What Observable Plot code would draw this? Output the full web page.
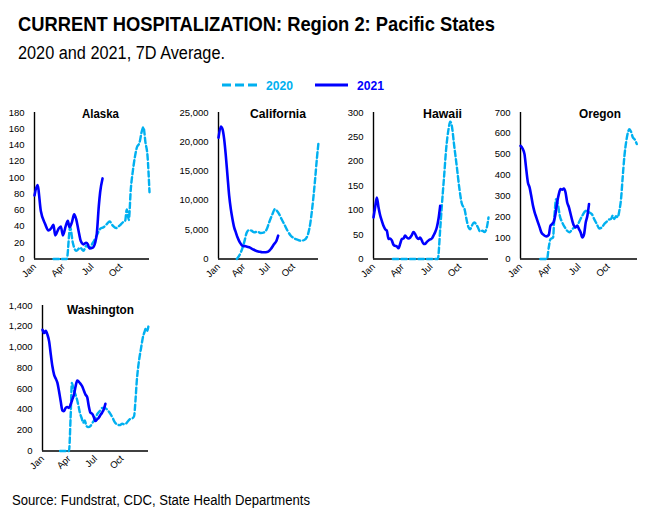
<!DOCTYPE html>
<html><head><meta charset="utf-8">
<script src="https://cdn.jsdelivr.net/npm/d3@7"></script>
<script src="https://cdn.jsdelivr.net/npm/@observablehq/plot@0.6"></script>
<style>
body{margin:0;background:#fff;}
#root{position:relative;width:671px;height:516px;overflow:hidden;background:#fff;font-family:Arial,"Liberation Sans",sans-serif;}
.panel{position:absolute;}
#overlay{position:absolute;left:0;top:0;pointer-events:none;}
</style></head><body><div id="root"></div>
<script>
// ---- data ----
const monthLabels = ["Jan","Apr","Jul","Oct"];
const monthTicks = [0,3,6,9];
const states = ["Alaska","California","Hawaii","Oregon","Washington"];
const yMax = [180, 25000, 300, 700, 1400];
const yStep = [20, 5000, 50, 100, 200];
const seriesNames = ["2020","2021"];

// [month position, 7D avg hospitalizations]
const alaska2021 = [[0,78],[0.31,91],[0.66,59],[1.11,43],[1.46,35],[1.81,39],[1.98,42],[2.16,29],[2.5,37],[2.75,40],[2.96,29],[3.27,41],[3.48,47],[3.65,39],[3.9,45],[4.14,55],[4.35,49],[4.59,35],[4.83,22],[5.11,18],[5.39,20],[5.57,18],[5.74,13],[6.09,14],[6.33,20],[6.5,31],[6.71,65],[6.85,82],[7.1,99]];
const alaska2020 = [[1.98,0],[3.37,0],[3.72,39],[4.0,20],[4.35,10],[4.77,14],[5.11,10],[5.39,16],[5.74,14],[6.09,20],[6.5,29],[6.85,37],[7.2,39],[7.55,43],[7.83,46],[8.17,41],[8.52,38],[8.87,41],[9.22,45],[9.46,47],[9.63,61],[9.84,48],[10.05,86],[10.26,108],[10.5,127],[10.68,137],[10.96,143],[11.2,157],[11.37,162],[11.58,143],[11.79,127],[12.0,82]];

const california2021 = [[0,20700],[0.28,22600],[0.48,22150],[0.68,20450],[0.88,17600],[1.08,14200],[1.28,10800],[1.48,8500],[1.68,6800],[1.88,5400],[2.08,4550],[2.28,3700],[2.56,2840],[2.88,2270],[3.28,2160],[3.68,2000],[4.08,1700],[4.48,1420],[4.88,1250],[5.28,1140],[5.68,1140],[5.96,1250],[6.28,1700],[6.68,2560],[6.96,3120],[7.16,3980]];
const california2020 = [[2.2,0],[2.68,1140],[3.08,2840],[3.4,4550],[3.68,4940],[3.96,4830],[4.28,4550],[4.68,4660],[5.08,4430],[5.48,4550],[5.8,5110],[6.08,6250],[6.48,7670],[6.76,8520],[7.0,8240],[7.28,7670],[7.56,6820],[7.88,5960],[8.28,4830],[8.68,3980],[9.08,3520],[9.48,3300],[9.88,3120],[10.28,3240],[10.68,3980],[11.0,5960],[11.28,9090],[11.56,13060],[11.8,17040],[12.0,19880]];

const hawaii2021 = [[0,85],[0.17,106],[0.35,126],[0.52,106],[0.7,89],[0.87,78],[1.04,68],[1.22,61],[1.39,58],[1.57,41],[1.74,42],[1.91,38],[2.09,29],[2.26,27],[2.43,26],[2.61,22],[2.78,31],[2.96,41],[3.13,42],[3.3,48],[3.48,44],[3.65,42],[3.83,44],[4.0,49],[4.17,55],[4.35,51],[4.52,44],[4.7,41],[4.87,44],[5.04,38],[5.22,31],[5.39,31],[5.57,35],[5.74,38],[5.91,40],[6.09,42],[6.26,48],[6.43,55],[6.61,65],[6.78,82],[6.96,109]];
const hawaii2020 = [[2.02,0],[6.71,0],[6.96,61],[7.13,109],[7.37,170],[7.58,225],[7.83,266],[8.0,281],[8.17,273],[8.42,232],[8.7,188],[8.97,143],[9.22,113],[9.5,102],[9.74,78],[9.91,65],[10.09,61],[10.26,68],[10.5,75],[10.68,72],[10.89,65],[11.13,56],[11.37,58],[11.58,55],[11.83,65],[12.0,85]];

const oregon2021 = [[0,541],[0.21,528],[0.41,501],[0.55,445],[0.76,366],[0.93,342],[1.1,302],[1.28,255],[1.45,223],[1.62,199],[1.79,175],[1.97,151],[2.14,127],[2.38,115],[2.66,108],[2.9,115],[3.07,159],[3.24,167],[3.41,178],[3.59,215],[3.76,270],[3.93,310],[4.1,334],[4.28,331],[4.45,337],[4.62,318],[4.79,270],[4.97,247],[5.14,215],[5.31,183],[5.48,159],[5.66,151],[5.83,159],[6.0,143],[6.17,127],[6.34,103],[6.52,119],[6.69,175],[6.86,207],[7.03,263]];
const oregon2020 = [[2.03,0],[2.72,0],[2.9,56],[3.07,95],[3.34,103],[3.48,207],[3.66,286],[3.86,255],[4.03,207],[4.28,175],[4.55,151],[4.79,135],[5.03,127],[5.31,143],[5.59,151],[5.83,159],[6.07,183],[6.34,207],[6.59,226],[6.79,231],[7.03,223],[7.31,215],[7.55,191],[7.83,167],[8.07,146],[8.34,151],[8.59,167],[8.83,178],[9.03,188],[9.28,191],[9.45,207],[9.62,191],[9.79,204],[9.97,199],[10.14,231],[10.31,286],[10.48,390],[10.66,493],[10.83,557],[11.0,601],[11.17,620],[11.34,608],[11.52,581],[11.69,573],[11.93,549]];

const washington2021 = [[0,1167],[0.19,1135],[0.37,1157],[0.56,1119],[0.75,1055],[0.94,927],[1.12,815],[1.31,735],[1.5,697],[1.69,655],[1.87,575],[2.06,479],[2.25,390],[2.43,384],[2.62,415],[2.81,422],[3.0,415],[3.18,447],[3.37,495],[3.56,543],[3.75,623],[3.93,678],[4.12,665],[4.31,646],[4.49,623],[4.68,582],[4.87,543],[5.06,518],[5.24,431],[5.43,368],[5.62,358],[5.81,326],[5.99,288],[6.18,304],[6.37,320],[6.55,345],[6.74,368],[6.93,400],[7.12,454]];
const washington2020 = [[1.99,0],[3.0,0],[3.18,320],[3.33,655],[3.48,607],[3.67,559],[3.86,511],[4.08,431],[4.23,368],[4.42,320],[4.61,272],[4.79,294],[4.98,240],[5.17,230],[5.43,240],[5.66,272],[5.92,304],[6.18,352],[6.48,384],[6.78,415],[7.04,415],[7.3,400],[7.6,368],[7.9,326],[8.16,281],[8.43,256],[8.73,249],[9.03,262],[9.29,256],[9.55,272],[9.85,304],[10.15,313],[10.37,336],[10.52,479],[10.67,671],[10.82,799],[10.97,895],[11.16,991],[11.35,1087],[11.57,1151],[11.72,1183],[11.87,1157],[11.99,1199]];

const data2020 = [alaska2020, california2020, hawaii2020, oregon2020, washington2020];
const data2021 = [alaska2021, california2021, hawaii2021, oregon2021, washington2021];

// ---- layout / style ----
const c2020 = "#00B0F0", c2021 = "#0000FF";
const layout = [
  {x0:34,  x1:149, top:112,   bottom:258.5, tx:82,  ty:117.5, tw:37},
  {x0:218, x1:318, top:112,   bottom:258.5, tx:250, ty:117.5, tw:56},
  {x0:373, x1:488, top:112,   bottom:258.5, tx:423, ty:117.5, tw:39},
  {x0:520, x1:637, top:112,   bottom:258.5, tx:579, ty:117.5, tw:42},
  {x0:42,  x1:148, top:304.5, bottom:450,   tx:67,  ty:314,   tw:67}
];

const root = document.getElementById("root");
const mL = 46, mR = 6, mT = 6, mB = 36;

states.forEach((name, i) => {
  const L = layout[i];
  const w = L.x1 - L.x0, h = L.bottom - L.top;
  const chart = Plot.plot({
    width: w + mL + mR, height: h + mT + mB,
    marginLeft: mL, marginRight: mR, marginTop: mT, marginBottom: mB,
    style: {fontFamily: "Arial, 'Liberation Sans', sans-serif", fontSize: "9.5px", color: "#000", background: "transparent", overflow: "visible"},
    x: {domain: [0, 12], ticks: monthTicks, tickFormat: d => monthLabels[monthTicks.indexOf(d)], tickRotate: -45, tickSize: 0, tickPadding: 6, label: null},
    y: {domain: [0, yMax[i]], ticks: d3.range(0, yMax[i] + 1, yStep[i]), tickSize: 0, tickPadding: 10, label: null},
    marks: [
      Plot.ruleY([0], {stroke: "#000", strokeWidth: 1.4}),
      Plot.ruleX([0], {stroke: "#000", strokeWidth: 1.4}),
      Plot.line(data2020[i], {x: d => d[0], y: d => d[1], stroke: c2020, strokeWidth: 2.4, strokeDasharray: "5.5,3", curve: "monotone-x"}),
      Plot.line(data2021[i], {x: d => d[0], y: d => d[1], stroke: c2021, strokeWidth: 2.6, strokeLinejoin: "round", curve: "monotone-x"})
    ]
  });
  chart.classList.add("panel");
  chart.style.left = (L.x0 - mL) + "px";
  chart.style.top = (L.top - mT) + "px";
  root.appendChild(chart);
});

// ---- overlay: titles, legend, source ----
const ns = "http://www.w3.org/2000/svg";
const svg = document.createElementNS(ns, "svg");
svg.setAttribute("id", "overlay");
svg.setAttribute("width", 671); svg.setAttribute("height", 516);
function txt(s, x, y, size, weight, fill, len) {
  const t = document.createElementNS(ns, "text");
  t.setAttribute("x", x); t.setAttribute("y", y);
  t.setAttribute("font-family", "Arial, 'Liberation Sans', sans-serif");
  t.setAttribute("font-size", size); t.setAttribute("font-weight", weight);
  t.setAttribute("fill", fill);
  if (len) { t.setAttribute("textLength", len); t.setAttribute("lengthAdjust", "spacingAndGlyphs"); }
  t.textContent = s; svg.appendChild(t);
}
function line(x1, x2, y, stroke, dash) {
  const l = document.createElementNS(ns, "line");
  l.setAttribute("x1", x1); l.setAttribute("x2", x2); l.setAttribute("y1", y); l.setAttribute("y2", y);
  l.setAttribute("stroke", stroke); l.setAttribute("stroke-width", 3);
  if (dash) l.setAttribute("stroke-dasharray", dash);
  svg.appendChild(l);
}
txt("CURRENT HOSPITALIZATION:  Region 2: Pacific States", 18, 31, 20, "bold", "#000", 477);
txt("2020 and 2021, 7D Average.", 18, 58.5, 18, "normal", "#000", 207);
line(222, 257, 85, c2020, "9,4");
txt(seriesNames[0], 266, 89.5, 13, "bold", c2020, 27);
line(315, 348, 85, c2021, null);
txt(seriesNames[1], 357, 89.5, 13, "bold", c2021, 27);
states.forEach((name, i) => {
  const L = layout[i];
  txt(name, L.tx, L.ty, 12.5, "bold", "#000", L.tw);
});
txt("Source: Fundstrat, CDC, State Health Departments", 12, 505, 14, "normal", "#000", 298);
root.appendChild(svg);
</script>
</body></html>
